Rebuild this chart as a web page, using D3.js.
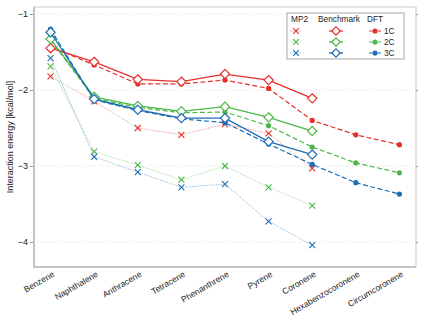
<!DOCTYPE html>
<html><head><meta charset="utf-8">
<script src="https://cdn.jsdelivr.net/npm/d3@7"></script>
<style>body{margin:0;background:#fff}svg{display:block;font-family:"Liberation Sans",Arial,sans-serif}</style>
</head><body><svg id="c" width="428" height="317"></svg>
<script>
const categories = ["Benzene","Naphthalene","Anthracene","Tetracene","Phenanthrene","Pyrene","Coronene","Hexabenzocoronene","Circumcoronene"];
const yTicks = [-1,-2,-3,-4];
const seriesNames = ["1C","2C","3C"];
const colors = ["#e5302a","#4cb748","#1d6db4"];
// Benchmark (hollow diamonds, solid lines)
const bench1C = [-1.45,-1.63,-1.86,-1.89,-1.79,-1.87,-2.11];
const bench2C = [-1.33,-2.09,-2.21,-2.28,-2.22,-2.36,-2.54];
const bench3C = [-1.24,-2.12,-2.26,-2.37,-2.37,-2.68,-2.85];
// DFT (filled circles, dashed lines)
const dft1C = [-1.43,-1.67,-1.92,-1.92,-1.87,-1.98,-2.40,-2.59,-2.72];
const dft2C = [-1.34,-2.11,-2.23,-2.30,-2.29,-2.47,-2.75,-2.96,-3.09];
const dft3C = [-1.20,-2.13,-2.27,-2.38,-2.43,-2.71,-2.98,-3.22,-3.37];
// MP2 (crosses, dotted lines)
const mp21C = [-1.82,-2.15,-2.50,-2.59,-2.45,-2.57,-3.03];
const mp22C = [-1.69,-2.81,-2.99,-3.18,-3.00,-3.28,-3.52];
const mp23C = [-1.58,-2.88,-3.08,-3.28,-3.24,-3.73,-4.04];

const svg = d3.select("#c");
const L=34,R=416,T=7,B=267;
const x = d3.scalePoint().domain(categories).range([L,R]).padding(0.38);
const y = d3.scaleLinear().domain([-0.908,-4.329]).range([T,B]);

// grid
svg.append("g").selectAll("line").data(yTicks).join("line")
  .attr("x1",L).attr("x2",R).attr("y1",d=>y(d)).attr("y2",d=>y(d))
  .attr("stroke","#d8d8d8").attr("stroke-width",0.8).attr("stroke-dasharray","1,2");

// frame
svg.append("rect").attr("x",L).attr("y",T).attr("width",R-L).attr("height",B-T)
  .attr("fill","none").attr("stroke","#c8c8c8").attr("stroke-width",1);
svg.append("path").attr("d",`M${L},${T}V${B}H${R}`).attr("fill","none").attr("stroke","#c4c4c4").attr("stroke-width",2);

// axes
const yAxis = d3.axisLeft(y).tickValues(yTicks).tickSize(3).tickPadding(2).tickFormat(d=>"\u2212"+Math.abs(d));
const gy = svg.append("g").attr("transform",`translate(${L-1},0)`).call(yAxis);
gy.select(".domain").remove();
gy.selectAll("line").attr("stroke","#999");
gy.selectAll("text").attr("font-size",9).attr("fill","#222").attr("font-family","Liberation Sans,Arial,sans-serif");
const gyr = svg.append("g").attr("transform",`translate(${R},0)`).call(d3.axisRight(y).tickValues(yTicks).tickSize(2).tickFormat(""));
gyr.select(".domain").remove(); gyr.selectAll("line").attr("stroke","#999");

const xAxis = d3.axisBottom(x).tickSize(0).tickPadding(0);
const gx = svg.append("g").attr("transform",`translate(0,${B})`).call(xAxis);
gx.select(".domain").remove();
gx.selectAll("text").attr("font-size",8.5).attr("fill","#222").attr("font-family","Liberation Sans,Arial,sans-serif")
  .attr("text-anchor","end").attr("dy",0).attr("y",0)
  .attr("transform","translate(4,9) rotate(-30)");

svg.append("text").attr("transform",`translate(13,${(T+B)/2}) rotate(-90)`)
  .attr("text-anchor","middle").attr("font-size",9).attr("fill","#222").text("Interaction energy [kcal/mol]");

const mp2 = [mp21C,mp22C,mp23C], dft=[dft1C,dft2C,dft3C], bench=[bench1C,bench2C,bench3C];
const line = d3.line().x((d,i)=>x(categories[i])).y(d=>y(d));
const crossPath = s=>`M${-s},${-s}L${s},${s}M${-s},${s}L${s},${-s}`;
const diamond = s=>`M0,${-s}L${s},0L0,${s}L${-s},0Z`;

// MP2
mp2.forEach((vals,k)=>{
  const g=svg.append("g");
  g.append("path").attr("d",line(vals)).attr("fill","none").attr("stroke",colors[k]).attr("stroke-opacity",0.55)
    .attr("stroke-width",0.9).attr("stroke-dasharray","1.2,1.2");
  g.selectAll("path.m").data(vals).join("path").attr("class","m")
    .attr("transform",(d,i)=>`translate(${x(categories[i])},${y(d)})`).attr("d",crossPath(3))
    .attr("stroke",colors[k]).attr("stroke-width",1.1).attr("fill","none");
});
// DFT
dft.forEach((vals,k)=>{
  const g=svg.append("g");
  g.append("path").attr("d",line(vals)).attr("fill","none").attr("stroke",colors[k])
    .attr("stroke-width",1.2).attr("stroke-dasharray","5,2.5");
  g.selectAll("circle").data(vals).join("circle")
    .attr("cx",(d,i)=>x(categories[i])).attr("cy",d=>y(d)).attr("r",2.6).attr("fill",colors[k]);
});
// Benchmark
bench.forEach((vals,k)=>{
  const g=svg.append("g");
  g.append("path").attr("d",line(vals)).attr("fill","none").attr("stroke",colors[k]).attr("stroke-width",1.3);
  g.selectAll("path.m").data(vals).join("path").attr("class","m")
    .attr("transform",(d,i)=>`translate(${x(categories[i])},${y(d)})`).attr("d",diamond(4.6))
    .attr("stroke",colors[k]).attr("stroke-width",1.2).attr("fill","#fff");
});

// legend
const lg = svg.append("g");
lg.append("rect").attr("x",287).attr("y",13).attr("width",117).attr("height",46)
  .attr("fill","#fff").attr("stroke","#a8a8a8").attr("stroke-width",1);
const hy=22;
[["MP2",291],["Benchmark",318],["DFT",367]].forEach(([t,xx])=>
  lg.append("text").attr("x",xx).attr("y",hy).attr("font-size",8.3).attr("fill","#222").text(t));
const rows=[31,42,53];
rows.forEach((ry,k)=>{
  const c=colors[k];
  lg.append("line").attr("x1",290).attr("x2",302).attr("y1",ry).attr("y2",ry).attr("stroke",c).attr("stroke-opacity",0.55)
    .attr("stroke-width",0.9).attr("stroke-dasharray","1.2,1.2");
  lg.append("path").attr("transform",`translate(296,${ry})`).attr("d",crossPath(2.8)).attr("stroke",c).attr("stroke-width",1.1);
  lg.append("line").attr("x1",329).attr("x2",343).attr("y1",ry).attr("y2",ry).attr("stroke",c).attr("stroke-width",1.3);
  lg.append("path").attr("transform",`translate(336,${ry})`).attr("d",diamond(4.2)).attr("stroke",c).attr("stroke-width",1.2).attr("fill","#fff");
  lg.append("line").attr("x1",369).attr("x2",381).attr("y1",ry).attr("y2",ry).attr("stroke",c).attr("stroke-width",1.2).attr("stroke-dasharray","3,1.5");
  lg.append("circle").attr("cx",375).attr("cy",ry).attr("r",2.6).attr("fill",c);
  lg.append("text").attr("x",384).attr("y",ry+3).attr("font-size",8.3).attr("fill","#222").text(seriesNames[k]);
});
</script></body></html>
